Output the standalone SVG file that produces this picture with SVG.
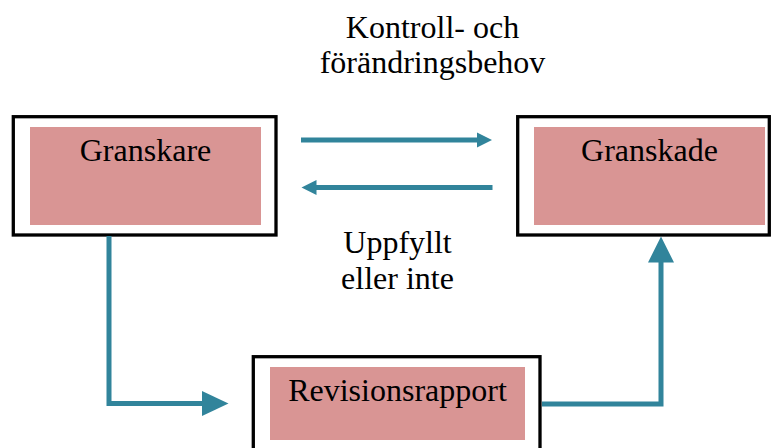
<svg xmlns="http://www.w3.org/2000/svg" width="771" height="448" viewBox="0 0 771 448">
<style>
.outer{fill:#fff;stroke:#000;stroke-width:3.3}
.inner{fill:#D99594}
.t{font-family:'Liberation Serif',serif;font-size:32px;fill:#000;text-anchor:middle}
.ln{fill:none;stroke:#31849B;stroke-width:5}
.hd{fill:#31849B}
</style>
<rect width="771" height="448" fill="#fff"/>
<g id="granskare">
<rect class="outer" x="13.3" y="116.7" width="262.7" height="118.3"/>
<rect class="inner" x="30" y="127" width="231" height="98"/>
<text class="t" x="145.5" y="161">Granskare</text>
</g>
<g id="granskade">
<rect class="outer" x="517.7" y="116.7" width="251.6" height="118.3"/>
<rect class="inner" x="534" y="127" width="231" height="98"/>
<text class="t" x="649.5" y="161">Granskade</text>
</g>
<g id="revisionsrapport">
<rect class="outer" x="253.3" y="356.7" width="286.7" height="120"/>
<rect class="inner" x="270" y="367" width="255" height="73"/>
<text class="t" x="397.5" y="401">Revisionsrapport</text>
</g>
<g id="label-kontroll">
<text class="t" x="432.5" y="38">Kontroll- och</text>
<text class="t" x="432.5" y="72.5">förändringsbehov</text>
</g>
<g id="label-uppfyllt">
<text class="t" x="397.5" y="253">Uppfyllt</text>
<text class="t" x="397.5" y="289">eller inte</text>
</g>
<g id="connectors">
<line class="ln" x1="301" y1="140" x2="478" y2="140"/>
<polygon class="hd" points="477,132.5 492,140 477,147.5"/>
<line class="ln" x1="492.5" y1="187.5" x2="315" y2="187.5"/>
<polygon class="hd" points="316.5,180 301.5,187.5 316.5,195"/>
<polyline class="ln" points="109,236 109,403.5 203,403.5"/>
<polygon class="hd" points="202,391 228.5,403.5 202,416"/>
<polyline class="ln" points="542,404 661,404 661,261"/>
<polygon class="hd" points="648,262.5 661,236.5 674,262.5"/>
</g>
</svg>
